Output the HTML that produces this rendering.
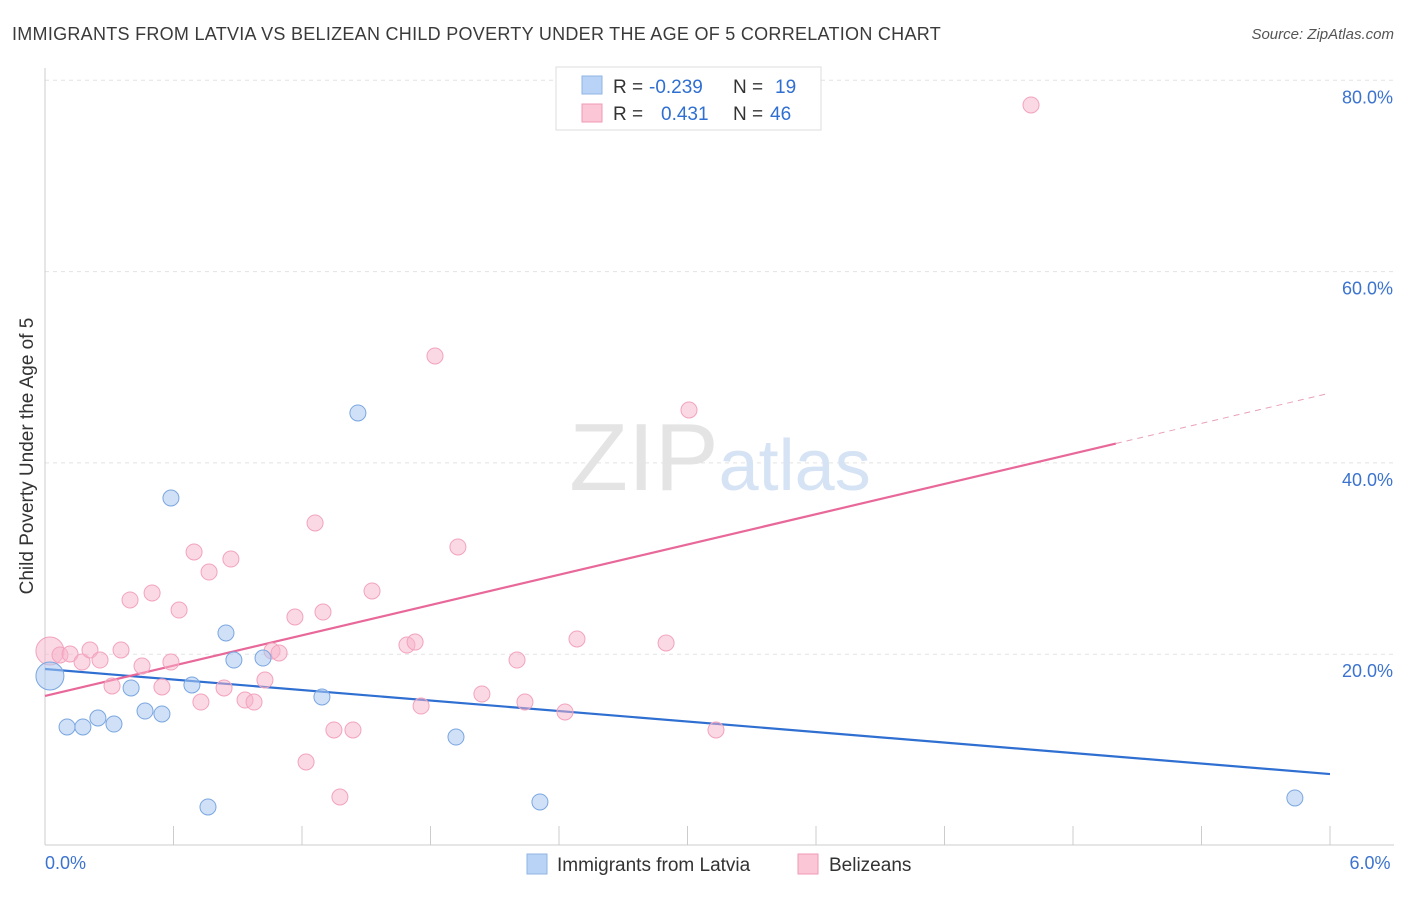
<!DOCTYPE html>
<html><head><meta charset="utf-8"><style>
body{margin:0;background:#fff;font-family:"Liberation Sans",sans-serif;}
svg text{font-family:"Liberation Sans",sans-serif;}
</style></head><body>
<svg id="chart" width="1406" height="892" xmlns="http://www.w3.org/2000/svg">
<text x="12" y="40" font-size="18" letter-spacing="0.28" fill="#3a3a3a">IMMIGRANTS FROM LATVIA VS BELIZEAN CHILD POVERTY UNDER THE AGE OF 5 CORRELATION CHART</text>
<text x="1394" y="39" font-size="15" fill="#555" font-style="italic" text-anchor="end">Source: ZipAtlas.com</text>
<g id="grid"></g>
<g id="axes"></g>
<text x="720" y="490" font-size="96" text-anchor="middle" fill="#e4e4e4" font-family="Liberation Serif">ZIP<tspan fill="#d5e3f5" font-family="Liberation Sans" font-size="72">atlas</tspan></text>
<text transform="translate(33,456) rotate(-90)" font-size="19" fill="#333" text-anchor="middle">Child Poverty Under the Age of 5</text>
<g id="lines"></g>
<g id="points"></g>
<g>
<rect x="556" y="67" width="265" height="63" fill="#fff" stroke="#ddd"/>
<rect x="582" y="76" width="20" height="18" fill="#b8d3f5" stroke="#8fb4e3"/>
<rect x="582" y="104" width="20" height="18" fill="#fbc6d6" stroke="#f09ab4"/>
<text x="613" y="93" font-size="19" fill="#333">R =</text>
<text x="649" y="93" font-size="19" fill="#2f6fd1">-0.239</text>
<text x="733" y="93" font-size="19" fill="#333">N =</text>
<text x="775" y="93" font-size="19" fill="#2f6fd1">19</text>
<text x="613" y="120" font-size="19" fill="#333">R =</text>
<text x="661" y="120" font-size="19" fill="#2f6fd1">0.431</text>
<text x="733" y="120" font-size="19" fill="#333">N =</text>
<text x="770" y="120" font-size="19" fill="#2f6fd1">46</text>
</g>
<g>
<rect x="527" y="854" width="20" height="20" fill="#b8d3f5" stroke="#8fb4e3"/>
<text x="557" y="871" font-size="19" fill="#333">Immigrants from Latvia</text>
<rect x="798" y="854" width="20" height="20" fill="#fbc6d6" stroke="#f09ab4"/>
<text x="829" y="871" font-size="19" fill="#333">Belizeans</text>
</g>
</svg>
<script>
const yTicks=[20,40,60,80];
const yTickLabels=["20.0%","40.0%","60.0%","80.0%"];
const xTickCount=10;
const xLabels=["0.0%","6.0%"];
const latviaX=[0.023,0.103,0.177,0.247,0.322,0.402,0.467,0.546,0.588,0.686,0.761,0.845,0.882,1.018,1.293,1.461,1.919,2.311,5.836];
const latviaY=[17.72,12.39,12.39,13.33,12.70,16.47,14.06,13.75,36.33,16.78,4.03,22.22,19.39,19.60,15.53,45.22,11.34,4.55,4.97];
const belizeX=[0.023,0.070,0.117,0.173,0.210,0.257,0.313,0.355,0.397,0.453,0.500,0.546,0.588,0.626,0.696,0.728,0.766,0.836,0.868,0.934,0.976,1.027,1.060,1.093,1.167,1.219,1.261,1.298,1.349,1.377,1.438,1.527,1.690,1.728,1.756,1.821,1.928,2.040,2.204,2.241,2.428,2.484,2.900,3.007,3.133,4.604];
const belizeY=[20.33,19.92,20.02,19.18,20.44,19.39,16.68,20.44,25.67,18.76,26.40,16.57,19.18,24.62,30.69,15.00,28.59,16.47,29.95,15.21,15.00,17.30,20.33,20.13,23.89,8.73,33.72,24.41,12.08,5.07,12.08,26.61,20.96,21.27,14.58,51.18,31.21,15.84,19.39,15.00,13.96,21.59,21.17,45.53,12.08,77.42];
const latviaTrend=[18.45,7.47];
const belizeTrend=[15.64,47.3];
const belizeSolidEnd=5.0;
const X=v=>45+v/6*1285;
const Y=v=>845.5-v/20*191.3;
const NS="http://www.w3.org/2000/svg";
function mk(t,a,p){const e=document.createElementNS(NS,t);for(const k in a)e.setAttribute(k,a[k]);p.appendChild(e);return e;}
const grid=document.getElementById('grid'),axes=document.getElementById('axes');
yTicks.forEach((t,i)=>{
 const l=mk('line',{x1:45,x2:1394,y1:Y(t),y2:Y(t),stroke:'#e3e3e3','stroke-dasharray':'4,4'},grid);
 
 
 const tx=mk('text',{x:1393,y:Y(t)+23,'font-size':18,fill:'#3b73cf','text-anchor':'end'},axes);
 tx.textContent=yTickLabels[i];
 
 
});
mk('line',{x1:45,x2:45,y1:68,y2:845,stroke:'#ccc'},axes);
mk('line',{x1:45,x2:1394,y1:845,y2:845,stroke:'#ccc'},axes);
for(let i=0;i<=xTickCount;i++){const x=X(i*6/xTickCount);const t=mk('line',{x1:x,x2:x,y1:826,y2:845,stroke:'#ccc'},axes);
 
 }
[[0,'start',45],[6,'middle',1370]].forEach((d,i)=>{const t=mk('text',{x:d[2],y:869,'font-size':18,fill:'#3b73cf','text-anchor':d[1]},axes);t.textContent=xLabels[i];
 
 });
const lines=document.getElementById('lines');
const bl=mk('line',{x1:X(0),y1:Y(latviaTrend[0]),x2:X(6),y2:Y(latviaTrend[1]),stroke:'#2f6fd1','stroke-width':2.2},lines);


const pv=v=>belizeTrend[0]+(belizeTrend[1]-belizeTrend[0])*v/6;
const pl=mk('line',{x1:X(0),y1:Y(pv(0)),x2:X(belizeSolidEnd),y2:Y(pv(belizeSolidEnd)),stroke:'#e8689a','stroke-width':2.2},lines);


const pd=mk('line',{x1:X(belizeSolidEnd),y1:Y(pv(belizeSolidEnd)),x2:X(6),y2:Y(pv(6)),stroke:'#e8a0bb','stroke-width':1,'stroke-dasharray':'6,5'},lines);


const pts=document.getElementById('points');
belizeX.forEach((x,i)=>{const c=mk('circle',{cx:X(x),cy:Y(belizeY[i]),r:i==0?14:8,fill:'rgba(248,180,202,0.5)',stroke:'#f2a3bd','stroke-width':1},pts);
 
 });
latviaX.forEach((x,i)=>{const c=mk('circle',{cx:X(x),cy:Y(latviaY[i]),r:i==0?14:8,fill:'rgba(170,200,240,0.55)',stroke:'#7aa6e0','stroke-width':1},pts);
 
 });
</script>
</body></html>
